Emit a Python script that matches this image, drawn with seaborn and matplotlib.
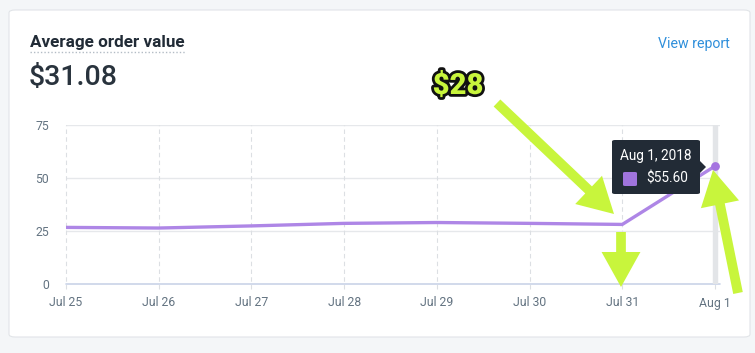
import numpy as np
import pandas as pd
import matplotlib
matplotlib.use("Agg")
import matplotlib.pyplot as plt
import matplotlib.patheffects as pe
from matplotlib.patches import FancyBboxPatch, FancyArrowPatch, Polygon
import seaborn as sns

# data
days = ["Jul 25", "Jul 26", "Jul 27", "Jul 28", "Jul 29", "Jul 30", "Jul 31", "Aug 1"]
order_value = [26.7, 26.4, 27.4, 28.6, 29.0, 28.6, 28.1, 55.6]
y_ticks = [0, 25, 50, 75]

df = pd.DataFrame({"day": np.arange(len(days)), "value": order_value})

sns.set_theme(style="white")
plt.rcParams["font.family"] = ["Roboto", "DejaVu Sans"]

W, H = 755, 353
fig = plt.figure(figsize=(W / 100, H / 100), dpi=100)
fig.patch.set_facecolor("#f4f6f8")


def fy(y):
    return (H - y) / H


# white card
card = FancyBboxPatch((9 / W, fy(337)), (750 - 9) / W, (337 - 10) / H,
                      boxstyle="round,pad=0,rounding_size=0.008",
                      transform=fig.transFigure, facecolor="white",
                      edgecolor="#e1e4e8", linewidth=0.8, zorder=-5)
fig.patches.append(card)

# axes
x0, x1 = 66, 720
ytop, ybot = 125, 284
ax = fig.add_axes([x0 / W, fy(ybot), (x1 - x0) / W, (ybot - ytop) / H])
ax.set_facecolor("none")
px_per_day = (715 - 66) / 7
ax.set_xlim(0, (x1 - x0) / px_per_day)
ax.set_ylim(0, 75)

for y in y_ticks[1:]:
    ax.axhline(y, color="#e6e8eb", lw=1, zorder=1)
ax.axhline(0, color="#c9d3e8", lw=1.2, zorder=1, clip_on=False)
for d in df["day"]:
    ax.axvline(d, ymin=-0.03, ymax=1, color="#dcdfe3", lw=0.8,
               ls=(0, (4, 3)), zorder=1, clip_on=False)

# highlight band at Aug 1
ax.axvspan(6.98, 7.02, color="#e3e5e8", zorder=1)

sns.lineplot(data=df, x="day", y="value", color="#ae86e6", lw=2.4, ax=ax, zorder=3)
ax.scatter([df["day"].iloc[-1]], [df["value"].iloc[-1]], s=28, color="#a574e0",
           zorder=4, clip_on=False)

for s in ax.spines.values():
    s.set_visible(False)
ax.set_xticks(df["day"])
ax.set_xticklabels(days)
ax.set_yticks(y_ticks)
ax.tick_params(axis="both", length=0, labelsize=8.8, colors="#637381")
ax.tick_params(axis="x", pad=9)
ax.tick_params(axis="y", pad=12)
ax.set_xlabel("")
ax.set_ylabel("")

# header texts
fig.text(30 / W, fy(42), "Average order value", fontsize=12.3, fontweight="bold",
         color="#212b36", va="center")
fig.lines.append(plt.Line2D([30 / W, 186 / W], [fy(52), fy(52)], transform=fig.transFigure,
                            color="#b3bcc5", lw=1, ls=(0, (1, 1.5))))
fig.text(29 / W, fy(77), "$31.08", fontsize=20.5, fontweight="medium",
         color="#29333d", va="center")
fig.text(730 / W, fy(44), "View report", fontsize=10.2, color="#2f8fdb",
         ha="right", va="center")

# tooltip
tip = FancyBboxPatch((612 / W, fy(194)), (700 - 612) / W, (194 - 140) / H,
                     boxstyle="round,pad=0,rounding_size=0.004",
                     transform=fig.transFigure, facecolor="#222b36",
                     edgecolor="none", zorder=5)
fig.patches.append(tip)
fig.patches.append(Polygon([[700 / W, fy(161)], [706 / W, fy(167)], [700 / W, fy(173)]],
                           closed=True, transform=fig.transFigure,
                           facecolor="#222b36", edgecolor="none", zorder=5))
fig.text(656 / W, fy(156), "Aug 1, 2018", fontsize=9.8, color="white",
         ha="center", va="center", zorder=6)
fig.patches.append(FancyBboxPatch((623 / W, fy(186)), 14 / W, 14 / H,
                                  boxstyle="round,pad=0,rounding_size=0.003",
                                  transform=fig.transFigure, facecolor="#a074dd",
                                  edgecolor="none", zorder=6))
fig.text(646 / W, fy(179), "$55.60", fontsize=9.8, color="white",
         ha="left", va="center", zorder=6)

# annotation arrows
lime = "#c8f53c"
arrow_style = "simple,head_width=2.0,head_length=1.8,tail_width=0.5"
for (sx, sy), (tx, ty) in [((497, 103), (614, 214)),
                           ((621, 232), (621, 287)),
                           ((738, 293), (713, 170))]:
    arr = FancyArrowPatch((sx / W, fy(sy)), (tx / W, fy(ty)), transform=fig.transFigure,
                          arrowstyle=arrow_style, mutation_scale=14,
                          facecolor=lime, edgecolor="none",
                          zorder=7, shrinkA=0, shrinkB=0)
    fig.patches.append(arr)

fig.text(458 / W, fy(86), "$28", fontsize=21, fontweight="heavy", color=lime,
         ha="center", va="center", zorder=8,
         path_effects=[pe.withStroke(linewidth=4, foreground="#111111")])

fig.savefig("out.png", dpi=100, facecolor=fig.get_facecolor())
